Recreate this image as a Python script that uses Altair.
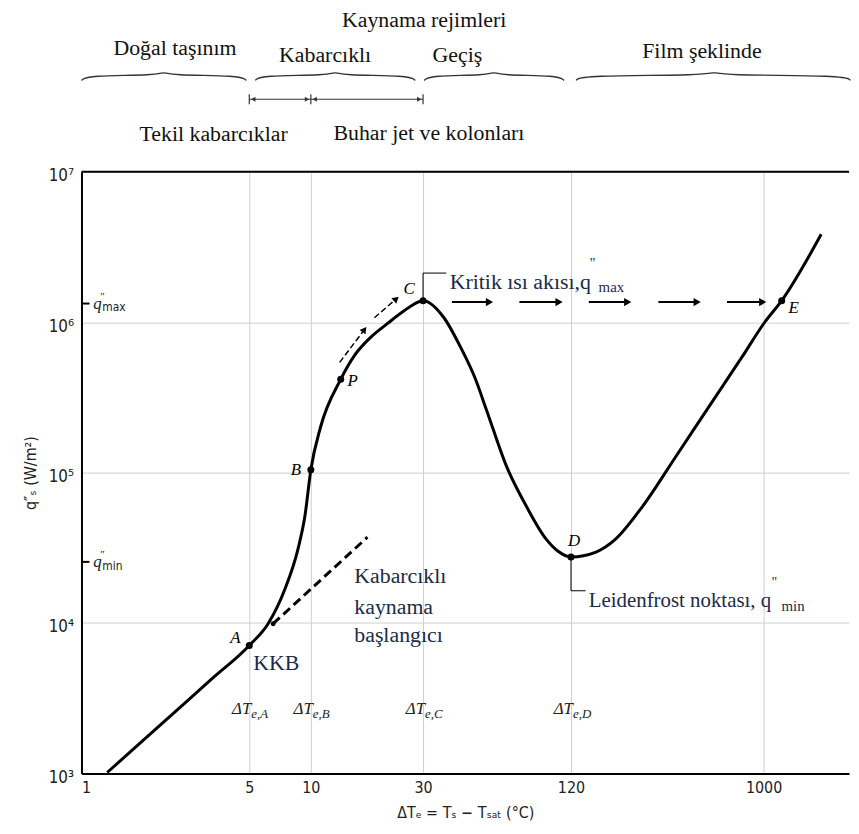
import altair as alt
import pandas as pd

# ---------------- data ----------------
curve_dT = [1.28, 1.86, 2.54, 3.48, 5.0, 6.18, 7.48, 8.65, 9.35, 10.0, 11.0, 13.4, 15.34,
            17.92, 21.14, 24.94, 30.0, 36.5, 42.3, 48.7, 54.4, 65.6, 79.0, 95.1,
            106.0, 120.0, 158.0, 196.0, 264.0, 378.0, 542.0, 786.0, 1010.0, 1220.0, 1885.0]
curve_q = [1015, 1730, 2700, 4240, 7100, 9900, 16900, 31000, 51200, 104600, 201000,
           417000, 601000, 790000, 977000, 1.191e6, 1.39e6, 1.07e6, 699800,
           430000, 260000, 110000, 59700, 36100, 30100, 27500, 29640, 36100, 59700,
           126000, 268500, 583000, 995000, 1.39e6, 3.84e6]

point_names = ["A", "B", "P", "C", "D", "E"]
point_dT = [5.0, 10.0, 13.4, 30.0, 120.0, 1220.0]
point_q = [7100, 104600, 417000, 1.39e6, 27500, 1.39e6]

onset_dT = [6.54, 17.4]
onset_q = [9900, 37200]

x_ticks = [1, 5, 10, 30, 120, 1000]
y_ticks = [1e3, 1e4, 1e5, 1e6, 1e7]
dT_marks = [5, 10, 30, 120]
dT_subs = ["e,A", "e,B", "e,C", "e,D"]

q_max = 1.33e6
q_min = 25500

flow_start_dT = [39.3, 74.0, 146.0, 314.0, 668.0]
flow_end_dT = [55.9, 107.3, 224.0, 481.0, 990.0]
flow_q = 1.36e6

along_start_dT = [13.26, 18.64]
along_start_q = [540400, 1.071e6]
along_end_dT = [16.9, 23.08]
along_end_q = [892400, 1.429e6]
along_angle = [307, 319]

regime_names = ["Doğal taşınım", "Kabarcıklı", "Geçiş", "Film şeklinde"]
regime_lo = [1.0, 5.35, 30.3, 126.8]
regime_hi = [4.86, 27.8, 112.5, 2600.0]
regime_mid = [2.20, 12.69, 58.3, 579.0]
regime_label_x = [2.45, 11.5, 41.4, 507.0]
regime_label_up = [125, 118, 118, 122]

# ---------------- layout helpers ----------------
PX_DEC = 151.5  # pixels per decade of q


def above_top(px):
    return 10 ** (7 + px / PX_DEC)


def shift(y, px):
    return y * 10 ** (px / PX_DEC)


SERIF = "Liberation Serif"
SANS = "DejaVu Sans Condensed, DejaVu Sans"
NAVY = "#1b2a49"

xscale = alt.Scale(type="log", domain=[1, 5, 10, 30, 120, 1000, 2560],
                   range=[0, 169, 231, 344, 493, 687, 773], nice=False)
yscale = alt.Scale(type="log", domain=[1e3, 1e7], nice=False)

sup = {3: "³", 4: "⁴", 5: "⁵", 6: "⁶", 7: "⁷"}
label_expr = " : ".join(
    [f"datum.value == {int(10**k)} ? '10{sup[k]}'" for k in range(3, 8)]) + " : ''"

x_axis = alt.Axis(values=x_ticks, format="d", grid=True, gridColor="#cfcfcf",
                  gridWidth=1, ticks=False, domainColor="black", domainWidth=2,
                  labelFont=SANS, labelFontSize=16, labelColor="#222", labelPadding=6,
                  title="ΔTₑ = Tₛ − Tₛₐₜ (°C)", titleFont=SANS, titleFontSize=16,
                  titleFontWeight="normal", titleColor="#222", titlePadding=9)
y_axis = alt.Axis(values=y_ticks, labelExpr=label_expr, grid=True, gridColor="#cfcfcf",
                  gridWidth=1, ticks=False, domainColor="black", domainWidth=2,
                  labelFont=SANS, labelFontSize=17, labelColor="#222", labelPadding=8,
                  labelOffset=4, title="q″ₛ (W/m²)", titleFont=SANS, titleFontSize=16,
                  titleFontWeight="normal", titleColor="#222", titlePadding=10)


def X(f="dT"):
    return alt.X(f, type="quantitative", scale=xscale, axis=x_axis)


def Y(f="q"):
    return alt.Y(f, type="quantitative", scale=yscale, axis=y_axis)


layers = []

# main boiling curve
curve_df = pd.DataFrame({"dT": curve_dT, "q": curve_q})
layers.append(alt.Chart(curve_df).mark_line(color="black", strokeWidth=3,
                                            interpolate="monotone")
              .encode(x=X(), y=Y()))

# top frame line
layers.append(alt.Chart(pd.DataFrame({"dT": [1], "dT2": [2560], "q": [1e7]}))
              .mark_rule(color="black", strokeWidth=2)
              .encode(x=X(), x2="dT2", y=Y()))

# onset of nucleate boiling (dashed)
onset_df = pd.DataFrame({"dT": onset_dT, "q": onset_q})
layers.append(alt.Chart(onset_df).mark_line(color="black", strokeWidth=3,
                                            strokeDash=[9, 5])
              .encode(x=X(), y=Y()))
layers.append(alt.Chart(onset_df.iloc[:1]).mark_circle(color="black", size=25, opacity=1)
              .encode(x=X(), y=Y()))

# labelled points
pts_df = pd.DataFrame({"name": point_names, "dT": point_dT, "q": point_q})
layers.append(alt.Chart(pts_df).mark_circle(color="black", size=50, opacity=1)
              .encode(x=X(), y=Y()))
offsets = {"A": (-14, -7), "B": (-15, 0), "P": (12, 2), "C": (-14, -12),
           "D": (3, -16), "E": (12, 7)}
for nm, (dx, dy) in offsets.items():
    layers.append(alt.Chart(pts_df[pts_df.name == nm])
                  .mark_text(font=SERIF, fontStyle="italic", fontSize=17, dx=dx, dy=dy,
                             color="black")
                  .encode(x=X(), y=Y(), text="name:N"))

# arrows along the curve (B -> C)
along_df = pd.DataFrame({"dT": along_start_dT, "q": along_start_q,
                         "dT2": along_end_dT, "q2": along_end_q, "ang": along_angle})
layers.append(alt.Chart(along_df).mark_rule(color="black", strokeWidth=1.5,
                                            strokeDash=[6, 3])
              .encode(x=X(), y=Y(), x2="dT2", y2="q2"))
for i in range(len(along_angle)):
    layers.append(alt.Chart(along_df.iloc[[i]])
                  .mark_point(shape="triangle-right", filled=True, color="black",
                              size=55, opacity=1, angle=along_angle[i])
                  .encode(x=X("dT2"), y=Y("q2")))

# horizontal arrows C -> E
flow_df = pd.DataFrame({"dT": flow_start_dT, "dT2": flow_end_dT,
                        "q": [flow_q] * len(flow_start_dT)})
layers.append(alt.Chart(flow_df).mark_rule(color="black", strokeWidth=2)
              .encode(x=X(), x2="dT2", y=Y()))
layers.append(alt.Chart(flow_df).mark_point(shape="triangle-right", filled=True,
                                            color="black", size=70, opacity=1)
              .encode(x=X("dT2"), y=Y()))

# q''max / q''min marks on the y axis
qm_df = pd.DataFrame({"dT": [1.0, 1.0], "dT2": [1.08, 1.08], "q": [q_max, q_min],
                      "sub": ["max", "min"]})
layers.append(alt.Chart(qm_df).mark_rule(color="black", strokeWidth=2)
              .encode(x=X(), x2="dT2", y=Y()))
qm_lab = qm_df.assign(dT=[1.12, 1.12])
layers.append(alt.Chart(qm_lab).mark_text(font=SERIF, fontStyle="italic", fontSize=17,
                                          align="left", text="q", color="#222")
              .encode(x=X(), y=Y()))
layers.append(alt.Chart(qm_lab).mark_text(font=SERIF, fontSize=11, align="left",
                                          text="″", dx=7, dy=-7, color="#222")
              .encode(x=X(), y=Y()))
layers.append(alt.Chart(qm_lab).mark_text(font=SANS, fontSize=12, align="left",
                                          dx=9, dy=4, color="#222")
              .encode(x=X(), y=Y(), text="sub:N"))

# ΔT_e labels
dtl_df = pd.DataFrame({"dT": dT_marks, "q": [2700] * len(dT_marks), "sub": dT_subs})
layers.append(alt.Chart(dtl_df).mark_text(font=SERIF, fontStyle="italic", fontSize=17,
                                          align="right", text="ΔT", dx=2, color="#222")
              .encode(x=X(), y=Y()))
layers.append(alt.Chart(dtl_df).mark_text(font=SERIF, fontStyle="italic", fontSize=13,
                                          align="left", dx=2, dy=5, color="#222")
              .encode(x=X(), y=Y(), text="sub:N"))

# leader lines to C and D
lead_df = pd.DataFrame({
    "g": ["C", "C", "C", "D", "D", "D"],
    "i": [0, 1, 2, 0, 1, 2],
    "dT": [30.0, 30.0, 37.3, 120.0, 120.0, 141.0],
    "q": [1.39e6, 2.12e6, 2.12e6, 27500, 16390, 16390]})
layers.append(alt.Chart(lead_df).mark_line(color="black", strokeWidth=1)
              .encode(x=X(), y=Y(), detail="g:N", order="i:Q"))


# annotation texts
def note(dT, q, txt, size=22, color=NAVY, align="left", dx=0, dy=0, font=SERIF,
         baseline="middle"):
    return (alt.Chart(pd.DataFrame({"dT": [dT], "q": [q], "t": [txt]}))
            .mark_text(font=font, fontSize=size, color=color, align=align, dx=dx, dy=dy,
                       baseline=baseline)
            .encode(x=X(), y=Y(), text="t:N"))


layers.append(note(38.5, 1.85e6, "Kritik ısı akısı,q", size=22))
layers.append(note(38.5, 1.85e6, '"', size=14, dx=141, dy=-18))
layers.append(note(38.5, 1.85e6, "max", size=15, dx=150, dy=5))
layers.append(note(146.0, 14080, "Leidenfrost noktası, q", size=21))
layers.append(note(146.0, 14080, '"', size=14, dx=184, dy=-18))
layers.append(note(146.0, 14080, "min", size=15, dx=194, dy=5))
layers.append(note(5.23, 5400, "KKB", size=22))
layers.append(note(15.3, 20580, "Kabarcıklı", size=22))
layers.append(note(15.3, 12850, "kaynama", size=22))
layers.append(note(15.3, 8270, "başlangıcı", size=22))

# header: boiling regimes
HEAD = "#111111"
layers.append(note(30.3, above_top(153), "Kaynama rejimleri", color=HEAD, align="center"))
for nm, xl, up in zip(regime_names, regime_label_x, regime_label_up):
    layers.append(note(xl, above_top(up), nm, color=HEAD, align="center"))
layers.append(note(3.55, above_top(38), "Tekil kabarcıklar", color=HEAD, align="center"))
layers.append(note(31.7, above_top(39), "Buhar jet ve kolonları", color=HEAD,
                   align="center"))

# braces
lvl = above_top(97)
rows = []
k = 1.06
for g, (a, b, m) in enumerate(zip(regime_lo, regime_hi, regime_mid)):
    xs = [a, a * k, m / k, m, m * k, b / k, b]
    ys = [shift(lvl, -5), lvl, lvl, shift(lvl, 4), lvl, lvl, shift(lvl, -5)]
    for i, (xv, yv) in enumerate(zip(xs, ys)):
        rows.append({"g": g, "i": i, "dT": xv, "q": yv})
brace_df = pd.DataFrame(rows)
layers.append(alt.Chart(brace_df).mark_line(color="#333", strokeWidth=1.3,
                                            interpolate="basis")
              .encode(x=X(), y=Y(), detail="g:N", order="i:Q"))

# sub-regime dimension arrows (5-10, 10-30)
alvl = above_top(73)
dim_df = pd.DataFrame({"dT": [5.0, 10.0], "dT2": [10.0, 30.0], "q": [alvl, alvl]})
layers.append(alt.Chart(dim_df).mark_rule(color="#333", strokeWidth=1)
              .encode(x=X(), x2="dT2", y=Y()))
bar_df = pd.DataFrame({"dT": [5.0, 10.0, 30.0], "q": [shift(alvl, -5)] * 3,
                       "q2": [shift(alvl, 5)] * 3})
layers.append(alt.Chart(bar_df).mark_rule(color="#333", strokeWidth=1.2)
              .encode(x=X(), y=Y(), y2="q2"))
head_df = pd.DataFrame({"dT": [5.23, 9.57, 10.39, 28.9], "q": [alvl] * 4,
                        "shape": ["triangle-left", "triangle-right", "triangle-left",
                                  "triangle-right"]})
for shp in ["triangle-left", "triangle-right"]:
    layers.append(alt.Chart(head_df[head_df["shape"] == shp])
                  .mark_point(shape=shp, filled=True, color="#333", size=25, opacity=1)
                  .encode(x=X(), y=Y()))

chart = (alt.layer(*layers)
         .properties(width=773, height=606, background="white",
                     autosize=alt.AutoSizeParams(type="none"),
                     padding={"left": 74, "top": 162, "right": 2, "bottom": 50})
         .configure_view(stroke=None))

chart.save("out.html", embed_options={"renderer": "svg", "actions": False})
